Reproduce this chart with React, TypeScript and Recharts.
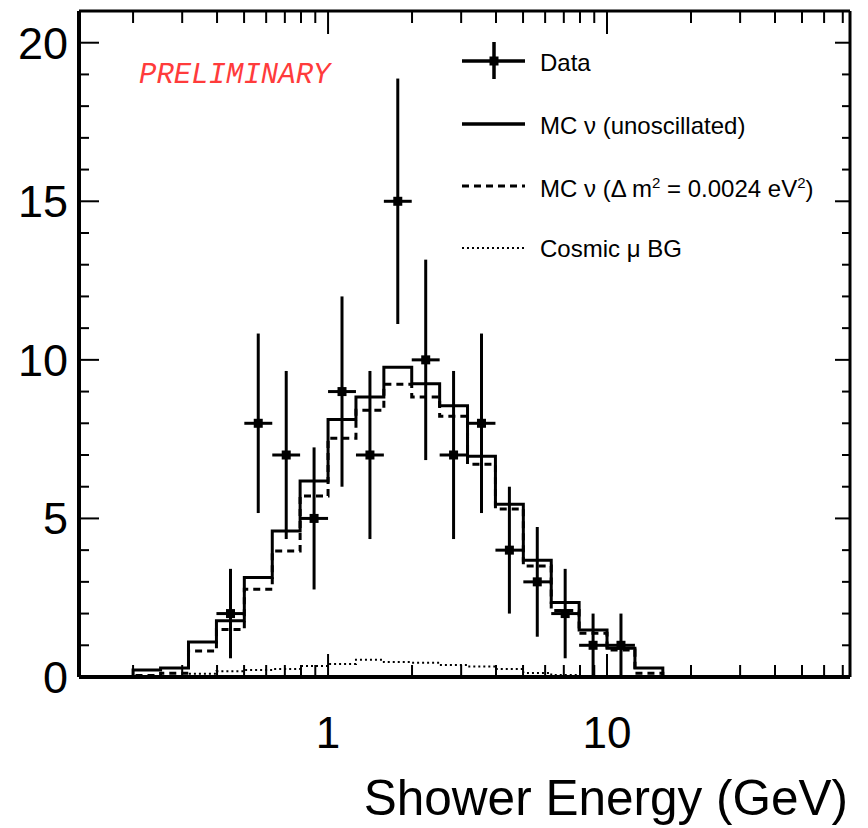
import { ComposedChart, Line, Scatter, ErrorBar, XAxis, YAxis } from "recharts"

// histogram bin edges (10 log bins per decade), GeV
const EDGES = [
  0.126, 0.158, 0.2, 0.251, 0.316, 0.398, 0.501, 0.631, 0.794, 1, 1.259, 1.585, 1.995, 2.512, 3.162, 3.981, 5.012,
  6.31, 7.943, 10, 12.59, 15.85, 19.95, 25.12, 31.62, 39.81, 50.12, 63.1, 79.43,
]
// one value per bin
const MC_UNOSC = [
  0, 0, 0.22, 0.28, 1.1, 1.77, 3.14, 4.6, 6.18, 8.12, 8.83, 9.77, 9.25, 8.55, 6.96, 5.45, 3.68, 2.35, 1.48, 0.91, 0.28,
  0, 0, 0, 0, 0, 0, 0,
]
const MC_OSC = [
  0, 0, 0.05, 0.12, 0.82, 1.5, 2.77, 3.97, 5.71, 7.53, 8.41, 9.23, 8.83, 8.22, 6.71, 5.3, 3.5, 2.1, 1.38, 0.85, 0.12,
  0, 0, 0, 0, 0, 0, 0,
]
const COSMIC_BG = [
  0, 0, 0, 0.03, 0.1, 0.18, 0.22, 0.25, 0.35, 0.41, 0.54, 0.47, 0.45, 0.38, 0.33, 0.25, 0.13, 0.06, 0.03, 0.02, 0, 0,
  0, 0, 0, 0, 0, 0,
]

// data points (bins 0.398 GeV .. 12.6 GeV)
const DATA_FIRST_EDGE = 5
const DATA_X = [0.447, 0.562, 0.708, 0.891, 1.122, 1.413, 1.778, 2.239, 2.818, 3.548, 4.467, 5.623, 7.079, 8.913, 11.22]
const DATA_N = [2, 8, 7, 5, 9, 7, 15, 10, 7, 8, 4, 3, 2, 1, 1]
const DATA_ERR = [1.41, 2.83, 2.65, 2.24, 3, 2.65, 3.87, 3.16, 2.65, 2.83, 2, 1.73, 1.41, 1, 1]

const X_TICKS = [0.2, 0.3, 0.4, 0.5, 0.6, 0.7, 0.8, 0.9, 1, 2, 3, 4, 5, 6, 7, 8, 9, 10, 20, 30, 40, 50, 60, 70]
const X_LABELS = [1, 10]
const Y_TICKS = [0, 1, 2, 3, 4, 5, 6, 7, 8, 9, 10, 11, 12, 13, 14, 15, 16, 17, 18, 19, 20]
const Y_LABELS = [0, 5, 10, 15, 20]

const X_DOMAIN: [number, number] = [0.128, 74.3]
const Y_DOMAIN: [number, number] = [0, 21]

const FONT = "'Liberation Sans', Arial, Helvetica, sans-serif"

const histRows = EDGES.map((x, i) => ({
  x,
  mc: i < MC_UNOSC.length ? MC_UNOSC[i] : 0,
  osc: i < MC_OSC.length ? MC_OSC[i] : 0,
  bg: i < COSMIC_BG.length ? COSMIC_BG[i] : 0,
}))

const dataRows = DATA_X.map((x, i) => ({
  x,
  n: DATA_N[i],
  ey: DATA_ERR[i],
  ex: [x - EDGES[DATA_FIRST_EDGE + i], EDGES[DATA_FIRST_EDGE + i + 1] - x],
}))

function BottomTick({ x, y, payload }: any) {
  const major = X_LABELS.includes(payload.value)
  return (
    <g>
      <line x1={x} x2={x} y1={y} y2={y - (major ? 23 : 12)} stroke="#000" strokeWidth={2} />
      {major && (
        <text x={x} y={y + 71} textAnchor="middle" fontSize={44} fontFamily={FONT} fill="#000">
          {payload.value}
        </text>
      )}
    </g>
  )
}

function TopTick({ x, y, payload }: any) {
  const major = X_LABELS.includes(payload.value)
  return <line x1={x} x2={x} y1={y} y2={y + (major ? 23 : 12)} stroke="#000" strokeWidth={2} />
}

function LeftTick({ x, y, payload }: any) {
  const major = Y_LABELS.includes(payload.value)
  return (
    <g>
      <line x1={x} x2={x + (major ? 20 : 10)} y1={y} y2={y} stroke="#000" strokeWidth={2} />
      {major && (
        <text x={x - 11} y={y + 16} textAnchor="end" fontSize={45} fontFamily={FONT} fill="#000">
          {payload.value}
        </text>
      )}
    </g>
  )
}

function RightTick({ x, y, payload }: any) {
  const major = Y_LABELS.includes(payload.value)
  return <line x1={x} x2={x - (major ? 15 : 8)} y1={y} y2={y} stroke="#000" strokeWidth={2} />
}

function AxisTitle({ viewBox }: any) {
  const { x, y, width } = viewBox
  return (
    <text x={x + width - 2} y={y + 138} textAnchor="end" fontSize={49.5} fontFamily={FONT} fill="#000">
      Shower Energy (GeV)
    </text>
  )
}

function Square({ cx, cy }: any) {
  return <rect x={cx - 4.5} y={cy - 4.5} width={9} height={9} fill="#000" />
}

function LegendBox() {
  const textProps = { fontSize: 24, fontFamily: FONT, fill: "#000" }
  return (
    <g>
      <line x1={462} x2={525} y1={61} y2={61} stroke="#000" strokeWidth={3.5} />
      <line x1={494} x2={494} y1={42} y2={79} stroke="#000" strokeWidth={3.5} />
      <rect x={489.5} y={56.5} width={9} height={9} fill="#000" />
      <text x={540} y={71} {...textProps}>Data</text>

      <line x1={462} x2={525} y1={124} y2={124} stroke="#000" strokeWidth={3.5} />
      <text x={540} y={134} {...textProps}>MC ν (unoscillated)</text>

      <line x1={462} x2={525} y1={186} y2={186} stroke="#000" strokeWidth={3} strokeDasharray="7 5" />
      <text x={540} y={197} {...textProps}>
        MC ν (Δ m<tspan dy={-9} fontSize={15}>2</tspan>
        <tspan dy={9}> = 0.0024 eV</tspan>
        <tspan dy={-9} fontSize={15}>2</tspan>
        <tspan dy={9}>)</tspan>
      </text>

      <line x1={462} x2={525} y1={248} y2={248} stroke="#000" strokeWidth={2} strokeDasharray="2 3" />
      <text x={540} y={257} {...textProps}>Cosmic μ BG</text>

      <text
        x={139}
        y={83}
        fontSize={29}
        fontStyle="italic"
        fontFamily="'Liberation Mono', 'Courier New', monospace"
        fill="#ff3b3b"
      >
        PRELIMINARY
      </text>
    </g>
  )
}

export default function App() {
  return (
    <div style={{ position: "absolute", left: 0, top: 0, background: "#fff" }}>
      <ComposedChart width={868} height={828} data={histRows} margin={{ top: 10, right: 17, bottom: 0, left: 0 }}>
        <XAxis
          xAxisId="b"
          dataKey="x"
          type="number"
          scale="log"
          domain={X_DOMAIN}
          allowDataOverflow
          ticks={X_TICKS}
          interval={0}
          tick={<BottomTick />}
          tickSize={0}
          tickMargin={0}
          tickLine={false}
          axisLine={{ stroke: "#000", strokeWidth: 4 }}
          height={151}
          label={<AxisTitle />}
        />
        <XAxis
          xAxisId="t"
          orientation="top"
          dataKey="x"
          type="number"
          scale="log"
          domain={X_DOMAIN}
          allowDataOverflow
          ticks={X_TICKS}
          interval={0}
          tick={<TopTick />}
          tickSize={0}
          tickMargin={0}
          tickLine={false}
          axisLine={{ stroke: "#000", strokeWidth: 3 }}
          height={1}
        />
        <YAxis
          yAxisId="l"
          type="number"
          domain={Y_DOMAIN}
          allowDataOverflow
          ticks={Y_TICKS}
          interval={0}
          tick={<LeftTick />}
          tickSize={0}
          tickMargin={0}
          tickLine={false}
          axisLine={{ stroke: "#000", strokeWidth: 4 }}
          width={79}
        />
        <YAxis
          yAxisId="r"
          orientation="right"
          type="number"
          domain={Y_DOMAIN}
          allowDataOverflow
          ticks={Y_TICKS}
          interval={0}
          tick={<RightTick />}
          tickSize={0}
          tickMargin={0}
          tickLine={false}
          axisLine={{ stroke: "#000", strokeWidth: 3 }}
          width={1}
        />
        <Line
          xAxisId="b"
          yAxisId="l"
          type="stepAfter"
          dataKey="bg"
          stroke="#000"
          strokeWidth={2}
          strokeDasharray="2 3"
          dot={false}
          activeDot={false}
          isAnimationActive={false}
        />
        <Line
          xAxisId="b"
          yAxisId="l"
          type="stepAfter"
          dataKey="osc"
          stroke="#000"
          strokeWidth={3}
          strokeDasharray="7 5"
          dot={false}
          activeDot={false}
          isAnimationActive={false}
        />
        <Line
          xAxisId="b"
          yAxisId="l"
          type="stepAfter"
          dataKey="mc"
          stroke="#000"
          strokeWidth={3}
          dot={false}
          activeDot={false}
          isAnimationActive={false}
        />
        <Scatter
          xAxisId="b"
          yAxisId="l"
          data={dataRows}
          dataKey="n"
          shape={<Square />}
          isAnimationActive={false}
        >
          <ErrorBar dataKey="ey" direction="y" width={0} stroke="#000" strokeWidth={3} isAnimationActive={false} />
          <ErrorBar dataKey="ex" direction="x" width={0} stroke="#000" strokeWidth={3} isAnimationActive={false} />
        </Scatter>
        <LegendBox />
      </ComposedChart>
    </div>
  )
}
